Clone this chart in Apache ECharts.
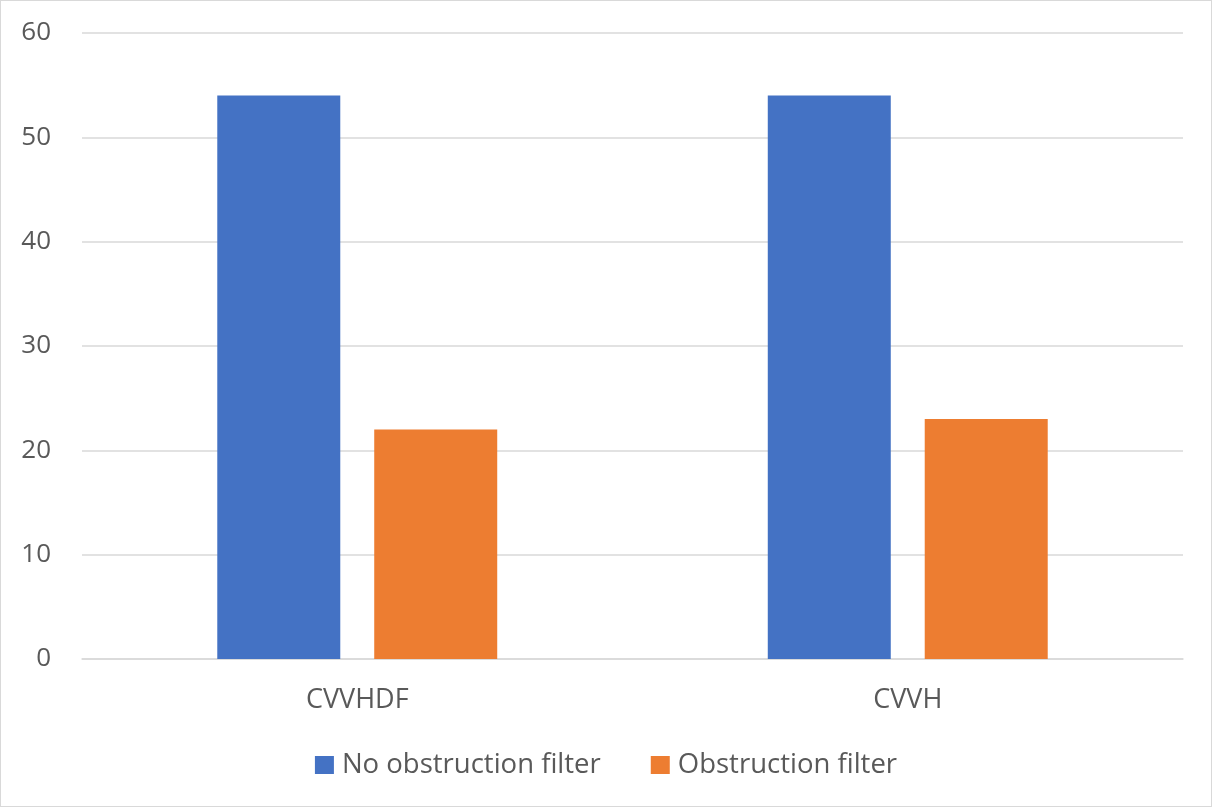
<!DOCTYPE html>
<html>
<head>
<meta charset="utf-8">
<script src="https://cdn.jsdelivr.net/npm/echarts@6/dist/echarts.min.js"></script>
<style>
html,body{margin:0;padding:0;background:#fff;}
#c{width:1212px;height:807px;box-sizing:border-box;border:1px solid #d9d9d9;}
</style>
</head>
<body>
<div id="c"></div>
<script>
const categories = ["CVVHDF", "CVVH"];
const noObstruction = [54, 54];
const obstruction = [22, 23];
const yTicks = [0, 10, 20, 30, 40, 50, 60];

const chart = echarts.init(document.getElementById('c'));
const font = "'Open Sans', 'Liberation Sans', sans-serif";
chart.setOption({
  animation: false,
  textStyle: { fontFamily: font },
  grid: { left: 81, right: 28, top: 32, bottom: 147 },
  legend: {
    top: 744,
    left: 'center',
    itemWidth: 19,
    itemHeight: 18,
    itemGap: 50,
    icon: 'rect',
    textStyle: { fontSize: 27.5, lineHeight: 30, color: '#595959', fontFamily: font, padding: [0, 0, 0, 3] },
    data: ['No obstruction filter', 'Obstruction filter']
  },
  xAxis: {
    type: 'category',
    data: categories,
    axisLine: { lineStyle: { color: '#d9d9d9', width: 1.5 } },
    axisTick: { show: false },
    axisLabel: { fontSize: 27, color: '#595959', margin: 28, fontFamily: font }
  },
  yAxis: {
    type: 'value',
    min: yTicks[0],
    max: yTicks[yTicks.length - 1],
    interval: 10,
    axisLine: { show: false },
    axisTick: { show: false },
    axisLabel: { fontSize: 26, color: '#595959', margin: 31, fontFamily: font },
    splitLine: { lineStyle: { color: '#d9d9d9', width: 1.5 } }
  },
  series: [
    {
      name: 'No obstruction filter',
      type: 'bar',
      data: noObstruction,
      barWidth: 123,
      barGap: '27.6%',
      itemStyle: { color: '#4472c4' }
    },
    {
      name: 'Obstruction filter',
      type: 'bar',
      data: obstruction,
      barWidth: 123,
      barGap: '27.6%',
      itemStyle: { color: '#ed7d31' }
    }
  ]
});
</script>
</body>
</html>
